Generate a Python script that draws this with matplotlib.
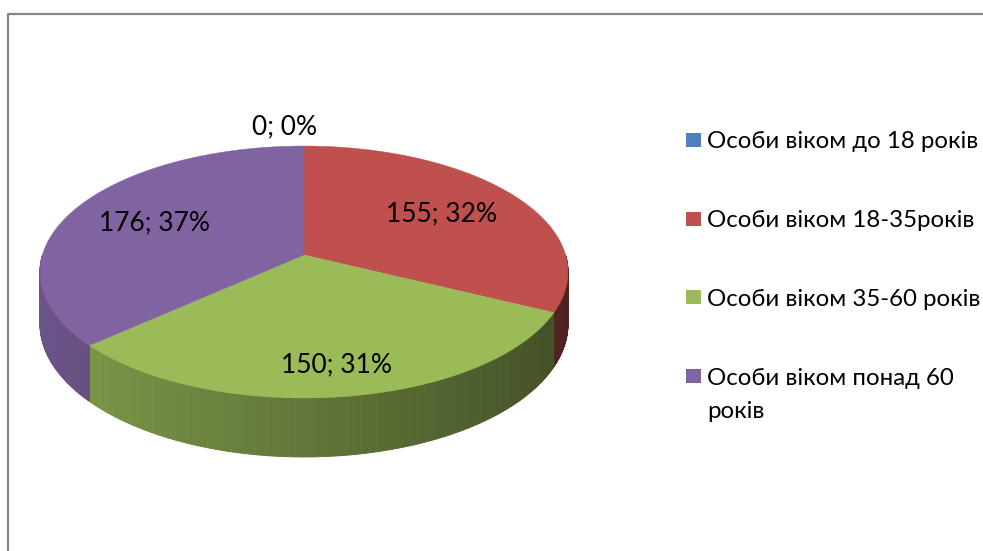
import textwrap
import numpy as np
import matplotlib
matplotlib.use("Agg")
import matplotlib.pyplot as plt
from matplotlib.patches import Polygon, Rectangle
from matplotlib.collections import PolyCollection

# ---- data ----
categories = ["Особи віком до 18 років", "Особи віком 18-35років",
              "Особи віком 35-60 років", "Особи віком понад 60 років"]
values = [0, 155, 150, 176]
colors = ["#4F81BD", "#C0504D", "#9BBB59", "#8064A2"]

# ---- layout / style ----
W, H = 983, 551
FONT = ["Lato", "DejaVu Sans"]
FS = 19
LFS = 17.3
CX, CY = 304, 255          # projected centre of the top face
A, B, P, DEPTH = 261.6, 123.7, 0.135, 51
label_r = [1.2, 0.65, 0.8, 0.65]
label_dx = [-19, 0, 0, 0]

fig = plt.figure(figsize=(W / 100, H / 100), dpi=100)
ax = fig.add_axes([0, 0, 1, 1])
ax.set_xlim(0, W)
ax.set_ylim(H, 0)
ax.axis("off")


def proj(theta, r=1.0, z=0.0):
    c = r * np.cos(theta)
    s = r * np.sin(theta)
    d = 1 + P * s
    return CX + A * c / d, CY + (-B * s + DEPTH * z) / d


def shade(hexcol, theta):
    rgb = np.array(matplotlib.colors.to_rgb(hexcol))
    f = 0.85 - 0.22 * (np.cos(theta) + 1)
    return tuple(np.clip(rgb * f, 0, 1))


total = sum(values)
starts, ends = [], []
a = np.pi / 2
for v in values:
    starts.append(a)
    a -= 2 * np.pi * v / total
    ends.append(a)

# ---- side walls (front half only) ----
polys, fcs = [], []
for i, v in enumerate(values):
    if v == 0:
        continue
    lo = max(ends[i], -np.pi)
    hi = min(starts[i], 0.0)
    if hi <= lo:
        continue
    n = max(2, int(np.degrees(hi - lo) * 2))
    th = np.linspace(lo, hi, n + 1)
    for t0, t1 in zip(th[:-1], th[1:]):
        p0 = proj(t0, 1, 0); p1 = proj(t1, 1, 0)
        q1 = proj(t1, 1, 1); q0 = proj(t0, 1, 1)
        polys.append([p0, p1, q1, q0])
        fcs.append(shade(colors[i], 0.5 * (t0 + t1)))
pc = PolyCollection(polys, facecolors=fcs, edgecolors=fcs, linewidths=0.6)
ax.add_collection(pc)

# ---- top faces ----
for i, v in enumerate(values):
    if v == 0:
        continue
    th = np.linspace(starts[i], ends[i], 300)
    pts = [proj(0, 0)] + [proj(t) for t in th]
    ax.add_patch(Polygon(pts, closed=True, facecolor=colors[i],
                         edgecolor=colors[i], linewidth=0.3))

# ---- data labels ----
for i, v in enumerate(values):
    mid = 0.5 * (starts[i] + ends[i])
    x, y = proj(mid, label_r[i])
    pct = round(100 * v / total)
    ax.text(x + label_dx[i], y, f"{v}; {pct}%", ha="center", va="center",
            fontsize=FS, family=FONT, color="black")

# ---- legend ----
LX, LY0, LDY, LLINE = 686, 140, 78.7, 33
for i, cat in enumerate(categories):
    y = LY0 + LDY * i
    ax.add_patch(Rectangle((LX, y - 7), 15, 14, facecolor=colors[i],
                           edgecolor="none"))
    for k, line in enumerate(textwrap.wrap(cat, 24)):
        ax.text(LX + 21, y + 8.5 + k * LLINE, line, ha="left",
                va="baseline", fontsize=LFS, family=FONT, color="black")

# ---- chart frame ----
ax.plot([7.5, 7.5, W + 5], [H + 5, 13.5, 13.5], color="#878787", lw=1.6,
        solid_capstyle="butt", clip_on=False)

fig.savefig("out.png", dpi=100)
